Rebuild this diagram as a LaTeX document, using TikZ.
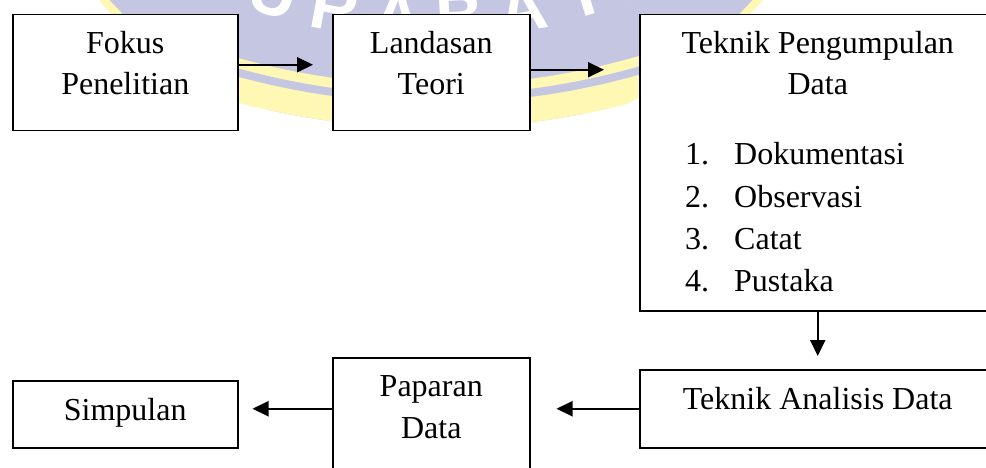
\documentclass[tikz,border=0pt]{standalone}
\usepackage{fontspec}
\setmainfont{Liberation Serif}
\newfontfamily\logofont{Liberation Sans}
\usetikzlibrary{arrows.meta}
\definecolor{ungu}{RGB}{197,199,226}
\definecolor{kuning}{RGB}{255,248,180}
\tikzset{
  kotak/.style={draw, line width=1.5pt, fill=white, inner sep=0pt, anchor=north west},
  tulisan/.style={align=center, anchor=base, inner sep=0pt, font=\fontsize{32}{41.5}\selectfont},
  panah/.style={line width=2pt, -{Triangle[length=16pt,width=15pt]}},
  huruf/.style={text=white, inner sep=0pt, anchor=south, font=\logofont\bfseries\fontsize{66}{66}\selectfont}
}
\begin{document}
\begin{tikzpicture}[x=1pt,y=-1pt]
\useasboundingbox (0,0) rectangle (986,468);
\clip (0,0) rectangle (986,468);
% watermark behind the chart
\coordinate (logo) at (431,-296);
\coordinate (pita) at (435,-642);
\coordinate (busur) at (429,-505);
\begin{scope}
\clip (logo) circle (445pt);
\clip (pita) circle (770pt);
\fill[kuning] (logo) circle (445pt);
\fill[ungu] (logo) circle (437pt);
\foreach \h [count=\i] in {S,U,R,A,B,A,Y,A}
  \node[huruf, rotate={(\i-4.5)*6.9}] (h\i) at ([shift={({-90+(\i-4.5)*6.9}:545pt)}]busur) {\h};
\fill[kuning, even odd rule] (pita) circle (770pt) (pita) circle (727pt); % ribbon
\fill[ungu, even odd rule] (pita) circle (745pt) (pita) circle (737pt);
\end{scope}
% boxes
\node[kotak, minimum width=225pt, minimum height=116pt] (fokus) at (12,14) {};
\node[kotak, minimum width=197pt, minimum height=116pt] (landasan) at (332,14) {};
\node[kotak, minimum width=356pt, minimum height=296pt] (kumpul) at (639,14) {};
\node[kotak, minimum width=356pt, minimum height=78pt] (analisis) at (639,369) {};
\node[kotak, minimum width=197pt, minimum height=122pt] (paparan) at (332,357) {};
\node[kotak, minimum width=225pt, minimum height=67pt] (simpulan) at (12,380) {};
% texts (base = last line)
\node[tulisan] (t-fokus) at ([yshift=-81pt]fokus.north) {Fokus\\Penelitian};
\node[tulisan] (t-landasan) at ([yshift=-81pt]landasan.north) {Landasan\\Teori};
\node[tulisan] (t-kumpul) at ([yshift=-81pt]kumpul.north) {Teknik Pengumpulan\\Data};
\foreach \t [count=\i] in {Dokumentasi,Observasi,Catat,Pustaka}{
  \node[tulisan, anchor=base west] (no\i) at (685,{165+42.3*(\i-1)}) {\i.};
  \node[tulisan, anchor=base west] (isi\i) at (734,{165+42.3*(\i-1)}) {\t};
}
\node[tulisan] (t-analisis) at ([yshift=-40pt]analisis.north) {Teknik Analisis Data};
\node[tulisan] (t-paparan) at ([yshift=-81pt]paparan.north) {Paparan\\Data};
\node[tulisan] (t-simpulan) at ([yshift=-40pt]simpulan.north) {Simpulan};
% arrows
\draw[panah, shorten >=19pt] ([yshift=8pt]fokus.east) -- ([yshift=8pt]landasan.west);
\draw[panah, shorten >=35pt] ([yshift=3pt]landasan.east) -- ([yshift=3pt]landasan.east -| kumpul.west);
\draw[panah, shorten >=13pt] (kumpul.south) -- (analisis.north);
\draw[panah, shorten >=26pt] (analisis.west) -- (analisis.west -| paparan.east);
\draw[panah, shorten >=14pt] (paparan.west |- analisis.west) -- (simpulan.east |- analisis.west);
\end{tikzpicture}
\end{document}
